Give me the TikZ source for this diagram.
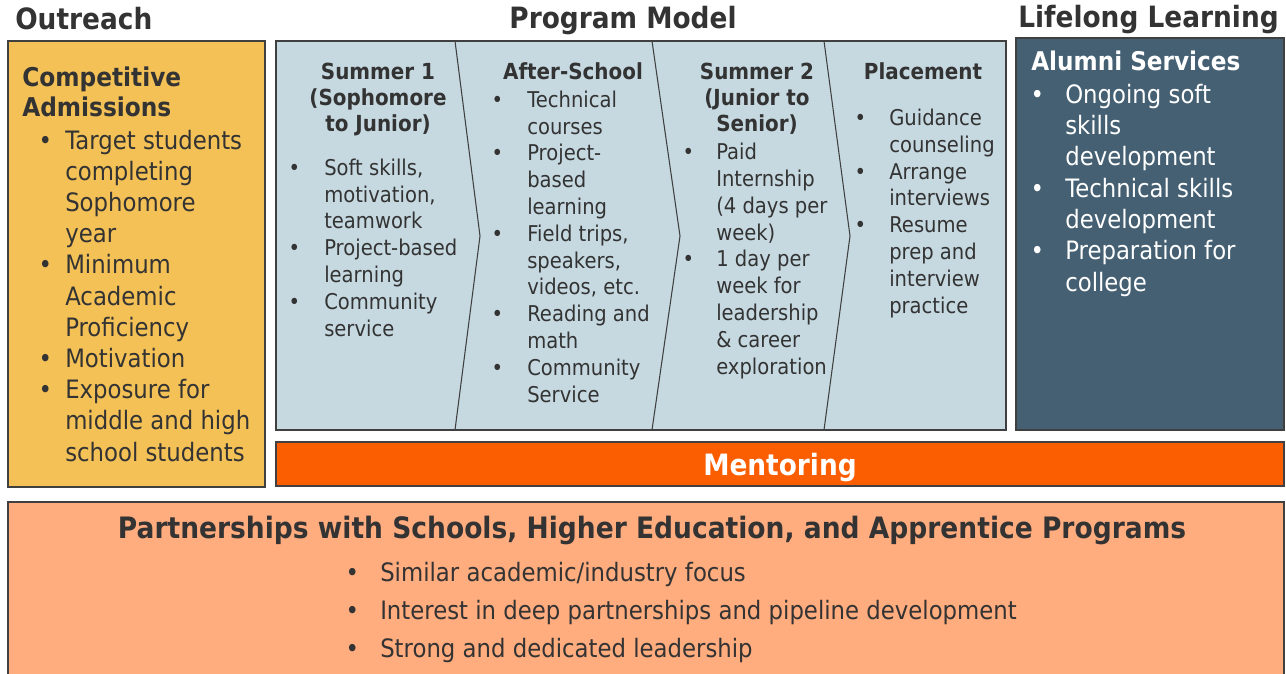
\documentclass[tikz,border=0pt]{standalone}
\usepackage{fontspec}
\setmainfont{DejaVu Sans}[FakeStretch=0.9]
\definecolor{ink}{HTML}{333333}
\definecolor{boxline}{HTML}{404040}
\definecolor{outreachfill}{HTML}{F4C157}
\definecolor{modelfill}{HTML}{C6D9E1}
\definecolor{alumnifill}{HTML}{456073}
\definecolor{mentorfill}{HTML}{FA5E00}
\definecolor{partnerfill}{HTML}{FFAC7E}
% bullet hanging left of the text start
\newcommand{\pbul}[1]{\llap{\makebox[0pt]{\textbullet}\hspace{#1}}}
\newcommand{\fs}[2]{\fontsize{#1}{#2}\selectfont}

\begin{document}
\begin{tikzpicture}[x=0.75pt,y=-0.75pt,
  box/.style={draw=boxline,line width=1.1pt},
  txt/.style={inner sep=0pt,anchor=base west,align=left,text=ink},
  head/.style={inner sep=0pt,anchor=base,align=center,text=ink,font=\bfseries\fs{16.6}{19.8}},
  title/.style={inner sep=0pt,anchor=base west,text=ink,font=\bfseries\fs{22}{26}}]
\useasboundingbox (0,0) rectangle (1286,674);
% (multi-line nodes sit on the baseline of their last line)

% titles
\node[title] (tout) at (15,30) {Outreach};
\node[title,anchor=base] (tmod) at (623,29) {Program Model};
\node[title] (tlife) at (1018,28) {Lifelong Learning};

% boxes
\draw[box,fill=outreachfill] (8,41) rectangle (265,487);
\draw[box,fill=modelfill] (276,41) rectangle (1006,430);
\draw[box,fill=alumnifill] (1016,38) rectangle (1284,430);
\draw[box,fill=mentorfill] (276,442) rectangle (1284,486);
\draw[box,fill=partnerfill] (8,502) rectangle (1284,690);

% chevrons between the phases
\foreach \a/\b in {455/480,652/680,824/850}
  \draw[boxline,line width=0.8pt,line join=miter] (\a,41)--(\b,236)--(\a,430);

% outreach
\node[txt,font=\bfseries\fs{19.4}{22.5}] (adm) at (22,117) {Competitive\\Admissions};
\node[txt,font=\fs{19}{23.4}] (admlist) at (65,461)
  {\pbul{15pt}Target students\\completing\\Sophomore\\year\\
   \pbul{15pt}Minimum\\Academic\\Proficiency\\
   \pbul{15pt}Motivation\\
   \pbul{15pt}Exposure for\\middle and high\\school students};

% program model
\node[head] (hsum1) at (378,132) {Summer 1\\(Sophomore\\to Junior)};
\node[txt,font=\fs{16.3}{20.1}] (lsum1) at (324,336)
  {\pbul{22.5pt}Soft skills,\\motivation,\\teamwork\\
   \pbul{22.5pt}Project-based\\learning\\
   \pbul{22.5pt}Community\\service};

\node[head] (hafter) at (573,80) {After-School};
\node[txt,font=\fs{16.3}{20.1}] (lafter) at (527,402)
  {\pbul{22.5pt}Technical\\courses\\
   \pbul{22.5pt}Project-\\based\\learning\\
   \pbul{22.5pt}Field trips,\\speakers,\\videos, etc.\\
   \pbul{22.5pt}Reading and\\math\\
   \pbul{22.5pt}Community\\Service};

\node[head] (hsum2) at (757,132) {Summer 2\\(Junior to\\Senior)};
\node[txt,font=\fs{16.3}{20.1}] (lsum2) at (716,374)
  {\pbul{21pt}Paid\\Internship\\(4 days per\\week)\\
   \pbul{21pt}1 day per\\week for\\leadership\\\& career\\exploration};

\node[head] (hplace) at (923,80) {Placement};
\node[txt,font=\fs{16.3}{20.1}] (lplace) at (889,313)
  {\pbul{21.75pt}Guidance\\counseling\\
   \pbul{21.75pt}Arrange\\interviews\\
   \pbul{21.75pt}Resume\\prep and\\interview\\practice};

% lifelong learning
\node[txt,text=white,font=\bfseries\fs{19.3}{23}] (alum) at (1031,71) {Alumni Services};
\node[txt,text=white,font=\fs{19}{23.5}] (alumlist) at (1065,291)
  {\pbul{21pt}Ongoing soft\\skills\\development\\
   \pbul{21pt}Technical skills\\development\\
   \pbul{21pt}Preparation for\\college};

% mentoring
\node[inner sep=0pt,anchor=base,text=white,font=\bfseries\fs{22}{26}] (ment) at (780,475) {Mentoring};

% partnerships
\node[inner sep=0pt,anchor=base,text=ink,font=\bfseries\fs{22.1}{26}] (part) at (652,538)
  {Partnerships with Schools, Higher Education, and Apprentice Programs};
\node[txt,font=\fs{19}{28.5}] (partlist) at (380,657)
  {\pbul{21pt}Similar academic/industry focus\\
   \pbul{21pt}Interest in deep partnerships and pipeline development\\
   \pbul{21pt}Strong and dedicated leadership};
\end{tikzpicture}
\end{document}
